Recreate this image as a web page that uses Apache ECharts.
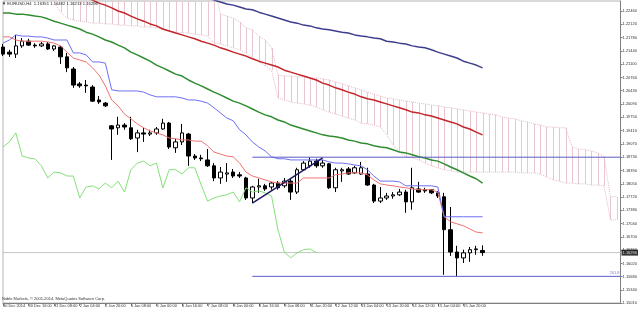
<!DOCTYPE html>
<html>
<head>
<meta charset="utf-8">
<title>EURUSD,H4</title>
<script src="https://cdn.jsdelivr.net/npm/echarts@6/dist/echarts.min.js"></script>
<style>
  html, body { margin: 0; padding: 0; background: #fff; }
  #main { width: 640px; height: 311px; }
</style>
</head>
<body>
<div id="main"></div>
<script>
// time axis labels, one every 4 H4 bars
var xLabels = ['30 Dec 2014', '30 Dec 16:00', '31 Dec 08:00', '2 Jan 04:00', '2 Jan 20:00', '5 Jan 08:00',
  '6 Jan 00:00', '6 Jan 16:00', '7 Jan 08:00', '8 Jan 00:00', '8 Jan 16:00', '9 Jan 08:00',
  '11 Jan 20:00', '12 Jan 12:00', '13 Jan 04:00', '13 Jan 20:00', '14 Jan 12:00', '15 Jan 04:00', '15 Jan 20:00']
var barsPerLabel = 4

// price scale labels
var yTicks = ['1.15010', '1.15340', '1.15680', '1.16020', '1.16360', '1.16700', '1.17040', '1.17380',
  '1.17720', '1.18050', '1.18390', '1.18730', '1.19070', '1.19410', '1.19750', '1.20090', '1.20430',
  '1.20760', '1.21100', '1.21440', '1.21780', '1.22120', '1.22460']

// candles (bar 0 .. 75)
var opens = [1.2154, 1.2141, 1.2136, 1.2157, 1.2169, 1.2159, 1.2157, 1.2162, 1.2149, 1.2154,
  1.2129, 1.2098, 1.2060, 1.2057, 1.2052, 1.2019, 1.2011, 1.1953, 1.1948, 1.1955,
  1.1948, 1.1922, 1.1935, 1.1932, 1.1935, 1.1945, 1.1960, 1.1897, 1.1912, 1.1932,
  1.1876, 1.1871, 1.1866, 1.1851, 1.1820, 1.1830, 1.1835, 1.1828, 1.1820, 1.1769,
  1.1797, 1.1800, 1.1797, 1.1807, 1.1800, 1.1812, 1.1784, 1.1841, 1.1851, 1.1863,
  1.1851, 1.1856, 1.1795, 1.1838, 1.1843, 1.1833, 1.1830, 1.1830, 1.1802, 1.1761,
  1.1769, 1.1774, 1.1777, 1.1784, 1.1759, 1.1792, 1.1790, 1.1790, 1.1782, 1.1772,
  1.1688, 1.1631, 1.1616, 1.1629, 1.1637, 1.16351]
var closes = [1.2136, 1.2136, 1.2157, 1.2169, 1.2159, 1.2157, 1.2162, 1.2149, 1.2157, 1.2129,
  1.2101, 1.2057, 1.2055, 1.2055, 1.2016, 1.2014, 1.2004, 1.1945, 1.1955, 1.1950,
  1.1920, 1.1935, 1.1932, 1.1935, 1.1945, 1.1960, 1.1899, 1.1912, 1.1935, 1.1876,
  1.1871, 1.1869, 1.1851, 1.1820, 1.1835, 1.1833, 1.1825, 1.1825, 1.1769, 1.1797,
  1.1800, 1.1792, 1.1807, 1.1795, 1.1812, 1.1784, 1.1841, 1.1858, 1.1863, 1.1851,
  1.1858, 1.1795, 1.1841, 1.1841, 1.1830, 1.1846, 1.1846, 1.1802, 1.1761, 1.1769,
  1.1774, 1.1777, 1.1784, 1.1759, 1.1795, 1.1784, 1.1787, 1.1782, 1.1774, 1.1688,
  1.1631, 1.1616, 1.1629, 1.1637, 1.1639, 1.16296]
var lows = [1.2131, 1.2129, 1.2126, 1.2152, 1.2157, 1.2152, 1.2154, 1.2147, 1.2144, 1.2111,
  1.2090, 1.2050, 1.2050, 1.2037, 1.2014, 1.2009, 1.2001, 1.1866, 1.1930, 1.1943,
  1.1917, 1.1886, 1.1912, 1.1927, 1.1930, 1.1943, 1.1894, 1.1884, 1.1904, 1.1851,
  1.1866, 1.1863, 1.1848, 1.1812, 1.1805, 1.1810, 1.1820, 1.1820, 1.1764, 1.1756,
  1.1782, 1.1787, 1.1790, 1.1790, 1.1795, 1.1764, 1.1779, 1.1838, 1.1846, 1.1846,
  1.1846, 1.1792, 1.1784, 1.1810, 1.1828, 1.1830, 1.1828, 1.1800, 1.1756, 1.1756,
  1.1764, 1.1767, 1.1774, 1.1731, 1.1739, 1.1782, 1.1782, 1.1779, 1.1769, 1.1573,
  1.1621, 1.1570, 1.1603, 1.1606, 1.1624, 1.16213]
var highs = [1.2162, 1.2147, 1.2185, 1.2177, 1.2175, 1.2164, 1.2167, 1.2167, 1.2159, 1.2157,
  1.2139, 1.2103, 1.2065, 1.2070, 1.2057, 1.2029, 1.2014, 1.1955, 1.1976, 1.1960,
  1.1976, 1.1943, 1.1948, 1.1943, 1.1950, 1.1971, 1.1963, 1.1920, 1.1958, 1.1935,
  1.1881, 1.1879, 1.1894, 1.1858, 1.1848, 1.1858, 1.1843, 1.1835, 1.1823, 1.1800,
  1.1818, 1.1805, 1.1810, 1.1812, 1.1820, 1.1820, 1.1846, 1.1863, 1.1873, 1.1869,
  1.1866, 1.1858, 1.1846, 1.1846, 1.1848, 1.1851, 1.1861, 1.1846, 1.1805, 1.1797,
  1.1782, 1.1784, 1.1792, 1.1790, 1.1846, 1.1810, 1.1795, 1.1792, 1.1787, 1.1782,
  1.1746, 1.1647, 1.1637, 1.1644, 1.1647, 1.16482]

// Ichimoku
var tenkan = [1.2180, 1.2180, 1.2172, 1.2169, 1.2169, 1.2169, 1.2169, 1.2167, 1.2164, 1.2157,
  1.2141, 1.2126, 1.2121, 1.2116, 1.2101, 1.2083, 1.2055, 1.2019, 1.2004, 1.1983,
  1.1971, 1.1958, 1.1948, 1.1940, 1.1935, 1.1930, 1.1922, 1.1920, 1.1917, 1.1917,
  1.1914, 1.1914, 1.1902, 1.1886, 1.1881, 1.1876, 1.1874, 1.1858, 1.1835, 1.1825,
  1.1820, 1.1815, 1.1810, 1.1807, 1.1807, 1.1807, 1.1807, 1.1820, 1.1820, 1.1820,
  1.1820, 1.1820, 1.1828, 1.1830, 1.1833, 1.1833, 1.1833, 1.1828, 1.1815, 1.1805,
  1.1802, 1.1800, 1.1797, 1.1795, 1.1792, 1.1790, 1.1790, 1.1790, 1.1784, 1.1721,
  1.1708, 1.1703, 1.1698, 1.1690, 1.1682, 1.1680]
var kijun = [1.2164, 1.2172, 1.2185, 1.2182, 1.2182, 1.2180, 1.2180, 1.2177, 1.2172, 1.2172,
  1.2172, 1.2139, 1.2139, 1.2134, 1.2116, 1.2116, 1.2113, 1.2045, 1.2042, 1.2042,
  1.2042, 1.2042, 1.2039, 1.2032, 1.2027, 1.2027, 1.2027, 1.2027, 1.2024, 1.2019,
  1.2019, 1.2016, 1.2011, 1.1999, 1.1986, 1.1973, 1.1966, 1.1943, 1.1930, 1.1912,
  1.1899, 1.1889, 1.1874, 1.1869, 1.1869, 1.1866, 1.1866, 1.1866, 1.1866, 1.1866,
  1.1866, 1.1861, 1.1858, 1.1858, 1.1856, 1.1853, 1.1851, 1.1841, 1.1825, 1.1812,
  1.1812, 1.1812, 1.1810, 1.1800, 1.1800, 1.1800, 1.1800, 1.1800, 1.1797, 1.1721,
  1.1721, 1.1721, 1.1721, 1.1721, 1.1721, 1.1721]
// chikou span, bar 0 .. 49
var chikou = [1.1899, 1.1912, 1.1935, 1.1876, 1.1871, 1.1869, 1.1851, 1.1820, 1.1835, 1.1833,
  1.1825, 1.1825, 1.1769, 1.1797, 1.1800, 1.1792, 1.1807, 1.1795, 1.1812, 1.1784,
  1.1841, 1.1858, 1.1863, 1.1851, 1.1858, 1.1795, 1.1841, 1.1841, 1.1830, 1.1846,
  1.1846, 1.1802, 1.1761, 1.1769, 1.1774, 1.1777, 1.1784, 1.1759, 1.1795, 1.1784,
  1.1787, 1.1782, 1.1774, 1.1688, 1.1631, 1.1616, 1.1629, 1.1637, 1.1639, 1.16296]
// kumo, bar 8 .. 96 (shifted forward)
var cloudStart = 8
var senkouA = [1.2269, 1.2243, 1.2228, 1.2223, 1.2220, 1.2218, 1.2215, 1.2215, 1.2213, 1.2213,
  1.2210, 1.2210, 1.2208, 1.2208, 1.2205, 1.2205, 1.2203, 1.2198, 1.2195, 1.2192,
  1.2190, 1.2190, 1.2187, 1.2185, 1.2182, 1.2164, 1.2162, 1.2157, 1.2152, 1.2147,
  1.2139, 1.2129, 1.2116, 1.2106, 1.2095, 1.2024, 1.2019, 1.2014, 1.2011, 1.2009,
  1.2006, 1.2001, 1.1994, 1.1988, 1.1983, 1.1978, 1.1973, 1.1968, 1.1960, 1.1958,
  1.1955, 1.1950, 1.1930, 1.1904, 1.1886, 1.1874, 1.1871, 1.1866, 1.1858, 1.1851,
  1.1846, 1.1841, 1.1838, 1.1835, 1.1835, 1.1835, 1.1835, 1.1835, 1.1835, 1.1835,
  1.1835, 1.1835, 1.1835, 1.1833, 1.1833, 1.1833, 1.1830, 1.1823, 1.1815, 1.1812,
  1.1807, 1.1807, 1.1805, 1.1805, 1.1802, 1.1802, 1.1800, 1.1713, 1.1713]
var senkouB = [1.2310, 1.2310, 1.2310, 1.2310, 1.2310, 1.2310, 1.2310, 1.2310, 1.2310, 1.2310,
  1.2310, 1.2310, 1.2310, 1.2310, 1.2310, 1.2310, 1.2310, 1.2310, 1.2310, 1.2310,
  1.2310, 1.2310, 1.2310, 1.2310, 1.2310, 1.2310, 1.2238, 1.2233, 1.2228, 1.2218,
  1.2203, 1.2198, 1.2182, 1.2172, 1.2152, 1.2083, 1.2080, 1.2080, 1.2078, 1.2078,
  1.2075, 1.2075, 1.2073, 1.2070, 1.2065, 1.2060, 1.2055, 1.2050, 1.2045, 1.2039,
  1.2034, 1.2029, 1.2024, 1.2022, 1.2019, 1.2016, 1.2014, 1.2011, 1.2009, 1.2006,
  1.2004, 1.2001, 1.1999, 1.1996, 1.1994, 1.1991, 1.1988, 1.1986, 1.1983, 1.1981,
  1.1976, 1.1973, 1.1971, 1.1966, 1.1963, 1.1958, 1.1955, 1.1950, 1.1950, 1.1948,
  1.1948, 1.1899, 1.1894, 1.1892, 1.1889, 1.1884, 1.1874, 1.1772, 1.1772]

// moving averages
var maGreenStart = 0
var maGreen = [1.2241, 1.2241, 1.2238, 1.2238, 1.2236, 1.2233, 1.2231, 1.2226, 1.2220, 1.2215,
  1.2210, 1.2205, 1.2200, 1.2192, 1.2187, 1.2180, 1.2172, 1.2167, 1.2159, 1.2152,
  1.2141, 1.2134, 1.2126, 1.2118, 1.2108, 1.2101, 1.2093, 1.2085, 1.2080, 1.2070,
  1.2062, 1.2055, 1.2047, 1.2039, 1.2032, 1.2024, 1.2016, 1.2011, 1.2004, 1.1996,
  1.1988, 1.1981, 1.1976, 1.1968, 1.1963, 1.1955, 1.1950, 1.1945, 1.1940, 1.1935,
  1.1930, 1.1927, 1.1925, 1.1922, 1.1917, 1.1914, 1.1909, 1.1907, 1.1902, 1.1899,
  1.1897, 1.1892, 1.1886, 1.1884, 1.1879, 1.1874, 1.1871, 1.1866, 1.1863, 1.1856,
  1.1848, 1.1841, 1.1833, 1.1825, 1.1818, 1.1807]
var maRedStart = 13
var maRed = [1.2280, 1.2274, 1.2266, 1.2261, 1.2254, 1.2246, 1.2241,
  1.2233, 1.2226, 1.2220, 1.2213, 1.2208, 1.2200, 1.2195, 1.2190, 1.2185, 1.2180,
  1.2175, 1.2169, 1.2164, 1.2159, 1.2152, 1.2147, 1.2141, 1.2136, 1.2131, 1.2124,
  1.2118, 1.2113, 1.2108, 1.2103, 1.2095, 1.2090, 1.2085, 1.2080, 1.2075, 1.2070,
  1.2062, 1.2057, 1.2050, 1.2045, 1.2039, 1.2034, 1.2027, 1.2022, 1.2019, 1.2014,
  1.2009, 1.2004, 1.1999, 1.1994, 1.1988, 1.1986, 1.1981, 1.1978, 1.1973, 1.1968,
  1.1963, 1.1958, 1.1950, 1.1945, 1.1937, 1.1930]
var maNavyStart = 32
var maNavy = [1.2280, 1.2274, 1.2269, 1.2264, 1.2261, 1.2256, 1.2251, 1.2249, 1.2243, 1.2238, 1.2233,
  1.2228, 1.2223, 1.2218, 1.2215, 1.2210, 1.2208, 1.2203, 1.2200, 1.2198, 1.2195,
  1.2192, 1.2190, 1.2185, 1.2182, 1.2180, 1.2177, 1.2175, 1.2169, 1.2167, 1.2164,
  1.2162, 1.2157, 1.2154, 1.2152, 1.2147, 1.2141, 1.2136, 1.2131, 1.2126, 1.2118,
  1.2113, 1.2108, 1.2101]

// drawn objects
var trendBars = [39, 50]
var trendPrices = [1.1756, 1.1871]
var fibStartBar = 39
var fibLevels = [1.1873, 1.1569]
var fibNames = ['', '261.8']
var lastPrice = 1.16296
var header = '\u25BC EURUSD,H4  1.16351 1.16482 1.16213 1.16296'
var footer = 'Noble Markets, \u00A9 2001-2014, MetaQuotes Software Corp.'

var font = 'Liberation Sans'
var xMax = 96.58

function pairs (start, values) {
  return values.map(function (v, k) { return [start + k, v] })
}

function line (data, color, width, extra) {
  var s = {
    type: 'line',
    data: data,
    symbol: 'none',
    silent: true,
    lineStyle: { color: color, width: width },
    z: 4
  }
  return Object.assign(s, extra || {})
}

var xTickBars = xLabels.map(function (_, i) { return i * barsPerLabel })
var yTickValues = yTicks.map(Number)

var series = []

// bid line
series.push(line([[0, lastPrice], [xMax, lastPrice]], '#c4c4c4', 1, { z: 2 }))

// kumo hatch
series.push({
  type: 'custom',
  clip: true,
  silent: true,
  z: 1,
  data: senkouA.map(function (a, k) { return [cloudStart + k, a, senkouB[k]] }),
  encode: { x: 0, y: [1, 2] },
  renderItem: function (params, api) {
    var p1 = api.coord([api.value(0), api.value(1)])
    var p2 = api.coord([api.value(0), api.value(2)])
    var x = Math.round(p1[0]) + 0.5
    return {
      type: 'line',
      shape: { x1: x, y1: p1[1], x2: x, y2: p2[1] },
      style: { stroke: '#e7c6d0', lineWidth: 1 }
    }
  }
})
series.push(line(pairs(cloudStart, senkouA), '#e2bcc8', 1, { z: 1, lineStyle: { color: '#e2bcc8', width: 1, type: 'dotted' } }))
series.push(line(pairs(cloudStart, senkouB), '#e2bcc8', 1, { z: 1, lineStyle: { color: '#e2bcc8', width: 1, type: 'dotted' } }))

// moving averages
series.push(line(pairs(maNavyStart, maNavy), '#3d3d8e', 1.5))
series.push(line(pairs(maRedStart, maRed), '#c3252b', 1.5))
series.push(line(pairs(maGreenStart, maGreen), '#2f8c2f', 1.5))

// candles
series.push({
  type: 'candlestick',
  barWidth: 4,
  silent: true,
  z: 3,
  data: opens.map(function (o, i) { return [i, o, closes[i], lows[i], highs[i]] }),
  itemStyle: { color: '#fff', color0: '#000', borderColor: '#000', borderColor0: '#000', borderWidth: 1 }
})

// tenkan / kijun / chikou
series.push(line(pairs(0, tenkan), '#f07272', 1))
series.push(line(pairs(0, kijun), '#6e6ef2', 1))
series.push(line(pairs(0, chikou), '#86e07a', 1))

// fibo lines and trend line
fibLevels.forEach(function (lvl) {
  series.push(line([[fibStartBar, lvl], [xMax, lvl]], '#5c5cc4', 1))
})
series.push({
  type: 'scatter',
  symbolSize: 0,
  clip: false,
  silent: true,
  z: 5,
  data: fibLevels.map(function (lvl, k) { return { value: [xMax, lvl], name: fibNames[k] } }),
  label: {
    show: true,
    position: 'left',
    distance: 1,
    offset: [0, -3],
    formatter: '{b}',
    fontSize: 4,
    fontFamily: font,
    color: '#5c5cc4'
  }
})
series.push(line(trendBars.map(function (b, k) { return [b, trendPrices[k]] }), '#1b1b62', 1.5, { z: 6 }))

// current price tag on the price scale
series.push({
  type: 'scatter',
  symbolSize: 0,
  clip: false,
  silent: true,
  z: 10,
  data: [[xMax, lastPrice]],
  label: {
    show: true,
    position: 'right',
    distance: 1,
    formatter: lastPrice.toFixed(5),
    backgroundColor: '#000',
    color: '#fff',
    fontSize: 4,
    fontFamily: font,
    padding: [1, 1, 1, 1]
  }
})

var option = {
  animation: false,
  backgroundColor: '#fff',
  textStyle: { fontFamily: font },
  title: {
    text: header,
    left: 2,
    top: 1.5,
    padding: 0,
    textStyle: { fontSize: 4.2, fontWeight: 'normal', color: '#222', fontFamily: font }
  },
  graphic: [{
    type: 'text',
    left: 2,
    top: 297,
    style: { text: footer, fontSize: 4, fill: '#333', fontFamily: font }
  }],
  grid: { left: 1, right: 18, top: 1, bottom: 8, show: true, borderColor: '#b4b4b4', borderWidth: 1 },
  xAxis: {
    type: 'value',
    min: 0,
    max: xMax,
    axisLine: { show: true, onZero: false, lineStyle: { color: '#808080' } },
    axisTick: { show: true, length: 3, customValues: xTickBars, lineStyle: { color: '#808080' } },
    axisLabel: {
      customValues: xTickBars,
      formatter: function (v) { return xLabels[Math.round(v / barsPerLabel)] || '' },
      align: 'left',
      margin: 1,
      fontSize: 3.9,
      color: '#333',
      fontFamily: font
    },
    splitLine: { show: false }
  },
  yAxis: {
    type: 'value',
    position: 'right',
    min: 1.1501,
    max: 1.22715,
    axisLine: { show: true, onZero: false, lineStyle: { color: '#808080' } },
    axisTick: { show: true, length: 2, customValues: yTickValues, lineStyle: { color: '#808080' } },
    axisLabel: {
      customValues: yTickValues,
      formatter: function (v) { return v.toFixed(5) },
      margin: 2,
      fontSize: 4,
      color: '#333',
      fontFamily: font
    },
    splitLine: { show: false }
  },
  series: series
}

var chart = echarts.init(document.getElementById('main'))
chart.setOption(option)
</script>
</body>
</html>
